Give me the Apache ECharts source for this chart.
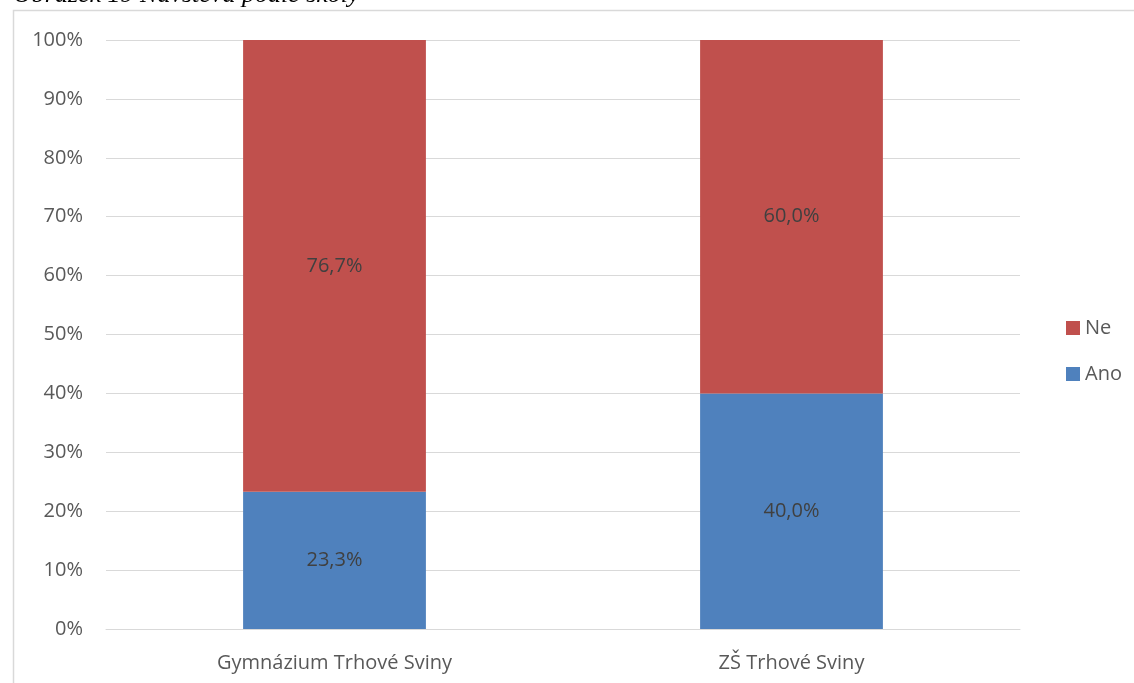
<!DOCTYPE html>
<html><head><meta charset="utf-8">
<script src="https://cdn.jsdelivr.net/npm/echarts@6/dist/echarts.min.js"></script>
<style>html,body{margin:0;padding:0;background:#fff}#c{width:1134px;height:683px}</style>
</head><body><div id="c"></div>
<script>
const categories = ['Gymnázium Trhové Sviny', 'ZŠ Trhové Sviny'];
const anoValues = [23.3, 40.0];
const neValues = [76.7, 60.0];
const yTicks = [0, 10, 20, 30, 40, 50, 60, 70, 80, 90, 100];
const captionText = 'Obrázek 19 Návštěva podle školy';

const chart = echarts.init(document.getElementById('c'));
const fmt = v => v.toFixed(1).replace('.', ',') + '%';
const FS = 20;
const lbl = {show: true, position: 'inside', color: '#404040', fontSize: FS, fontFamily: 'Open Sans', formatter: p => fmt(p.value)};
chart.setOption({
  animation: false,
  graphic: [
    {type: 'rect', shape: {x: 13.5, y: 10.5, width: 1200, height: 800}, style: {fill: 'none', stroke: '#d9d9d9', lineWidth: 1.5}, z: -1},
    {type: 'text', left: 13, top: -18, style: {text: captionText, font: 'italic 26px "Liberation Serif"', fill: '#000'}}
  ],
  grid: {left: 106, right: 114, top: 40, bottom: 54},
  legend: {
    orient: 'vertical', left: 1061, top: 313, itemGap: 26, itemWidth: 14, itemHeight: 14,
    icon: 'rect', textStyle: {fontSize: FS, color: '#595959', fontFamily: 'Open Sans'},
    data: ['Ne', 'Ano']
  },
  xAxis: {
    type: 'category', data: categories,
    axisLine: {lineStyle: {color: '#d9d9d9'}}, axisTick: {show: false},
    axisLabel: {fontSize: FS, color: '#595959', fontFamily: 'Open Sans', margin: 24}
  },
  yAxis: {
    type: 'value', min: 0, max: 100, interval: 10,
    axisLine: {show: false}, axisTick: {show: false},
    axisLabel: {fontSize: FS, color: '#595959', fontFamily: 'Open Sans', margin: 23, formatter: v => v + '%'},
    splitLine: {lineStyle: {color: '#d9d9d9', width: 1}}
  },
  series: [
    {name: 'Ano', type: 'bar', stack: 's', data: anoValues, barWidth: '40%', itemStyle: {color: '#4F81BD'}, label: lbl},
    {name: 'Ne', type: 'bar', stack: 's', data: neValues, barWidth: '40%', itemStyle: {color: '#C0504D'}, label: lbl}
  ]
});
</script></body></html>
